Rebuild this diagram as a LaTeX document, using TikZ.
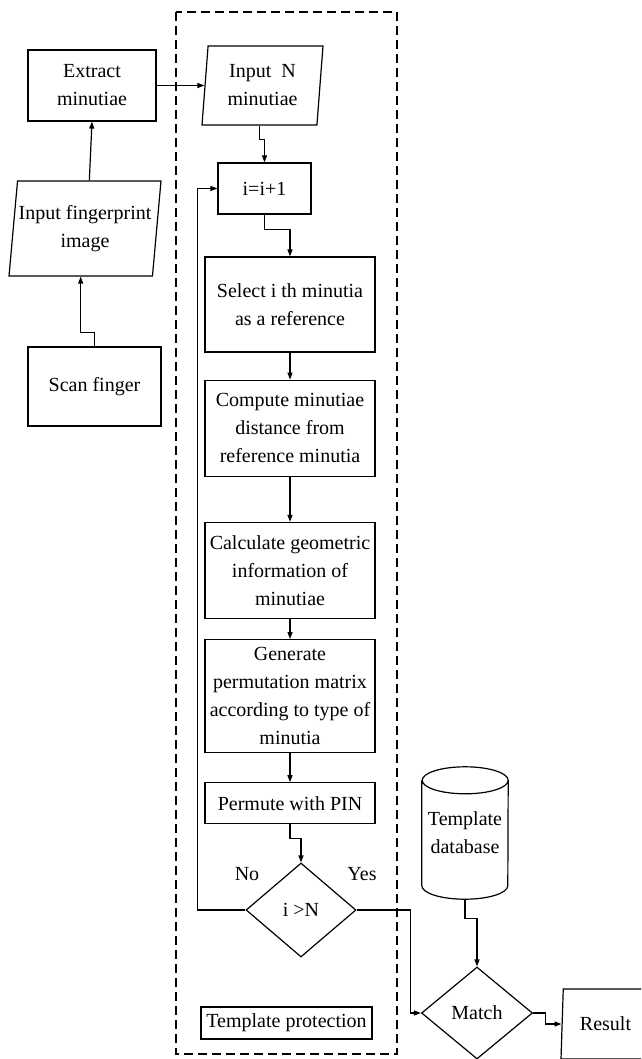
\documentclass[tikz,border=0pt]{standalone}
\usepackage{fontspec}
\setmainfont{Liberation Serif}
\usetikzlibrary{shapes.geometric,arrows.meta,positioning}
\begin{document}
\begin{tikzpicture}[x=1pt,y=-1pt,
	every node/.style={font=\fontsize{20}{28}\selectfont,align=center,inner sep=1pt},
	box/.style={rectangle,draw,line width=1.2pt,minimum width=170pt},
	io/.style={trapezium,draw,line width=1.2pt,trapezium left angle=82,
	trapezium right angle=98,trapezium stretches body},
	cond/.style={diamond,draw,line width=1.2pt},
	arr/.style={-{Triangle[length=7pt,width=5pt]},line width=1.2pt},
	node distance=27pt]
\useasboundingbox (0,0) rectangle (641,1059);
\clip (0,0) rectangle (641,1059);
% frame of the template protection part
\draw[line width=1.2pt,dash pattern=on 9pt off 5pt] (176,12) rectangle (397,1054);
% left column
\node[box,minimum width=128pt,minimum height=71pt] (ext) at (92,85.5) {Extract\\minutiae};
\node[io,trapezium left angle=80,trapezium right angle=100,
	minimum width=152pt,minimum height=95pt] (fp) at (85,228.5) {Input fingerprint\\image};
\node[box,minimum width=133pt,minimum height=79pt] (scan) at (94.5,386.5) {Scan finger};
% template protection
\node[io,minimum width=121pt,minimum height=79pt] (inN) at (262.5,85.5) {Input~~N\\minutiae};
\node[box,minimum width=93pt,minimum height=51pt] (inc) at (264.5,188.5) {i=i+1};
\node[box,minimum height=95pt] (sel) at (290,304.5) {Select i th minutia\\as a reference};
\node[box,minimum height=96pt,below=27pt of sel] (comp) {Compute minutiae\\distance from\\reference minutia};
\node[box,minimum height=96pt,below=45pt of comp] (calc) {Calculate geometric\\information of\\minutiae};
\node[box,minimum height=113pt,below=20pt of calc] (gen) {Generate\\permutation matrix\\according to type of\\minutia};
\node[box,minimum height=41pt,below=29pt of gen] (perm) {Permute with PIN};
\node[cond,minimum width=110pt,minimum height=94pt] (dec) at (301,910) {i >N};
\node (no) at (247,874) {No};
\node (yes) at (362,874) {Yes};
\node[box,minimum width=171pt,minimum height=32pt] (tp) at (286.5,1023) {Template protection};
% matching
\node[minimum width=86pt,minimum height=132pt] (db) at (465,833) {Template\\database};
\draw[line width=1.2pt] ([yshift=-13.5pt]db.north west) -- ([yshift=13.5pt]db.south west)
	arc (180:360:43pt and 13.5pt) -- ([yshift=-13.5pt]db.north east)
	arc (0:180:43pt and 13.5pt) arc (180:360:43pt and 13.5pt);
\node[cond,minimum width=111pt,minimum height=92pt] (match) at (477,1013) {Match};
\node[io,minimum width=89pt,minimum height=70pt] (res) at (605.5,1024) {Result};
% connectors
\draw[arr] (scan.north) -- ++(0,-14) -| (fp.bottom side);
\draw[arr] (fp.top side) -- (ext.south);
\draw[arr] (ext.east) -- (inN.left side);
\draw[arr] (inN.bottom side) -- ++(0,14) -| (inc.north);
\draw[arr] (inc.south) -- ++(0,15) -| (sel.north);
\draw[arr] (sel) -- (comp);
\draw[arr] (comp) -- (calc);
\draw[arr] (calc) -- (gen);
\draw[arr] (gen) -- (perm);
\draw[arr] (perm.south) -- ++(0,14) -| (dec.north);
\draw[arr] (dec.west) -- ++(-48,0) |- (inc.west);
\draw[arr] (dec.east) -- ++(54,0) |- (match.west);
\draw[arr] (db.south) -- ++(0,19) -| (match.north);
\draw[arr] (match.east) -- ++(12,0) |- (res.left side);
\end{tikzpicture}
\end{document}
